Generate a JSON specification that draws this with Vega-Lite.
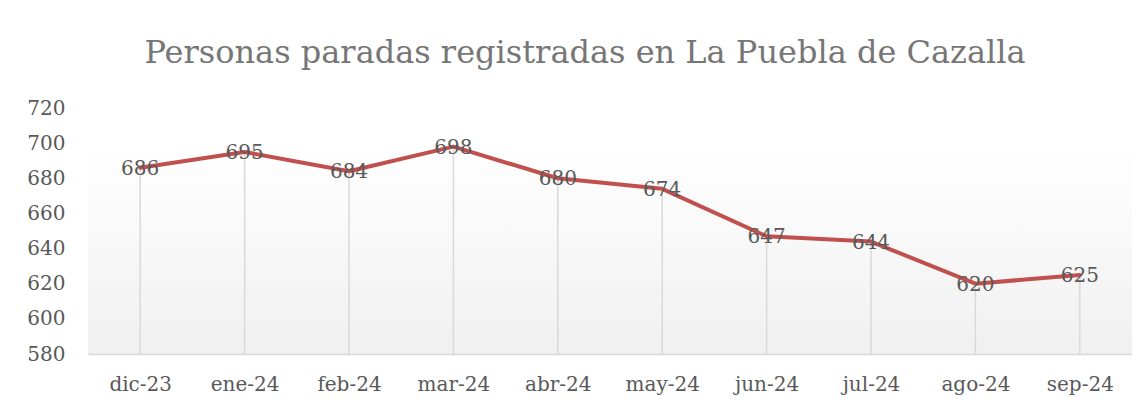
{
  "$schema": "https://vega.github.io/schema/vega-lite/v6.json",
  "autosize": "none",
  "width": 1044,
  "height": 246,
  "padding": {"left": 88, "top": 108, "right": 15, "bottom": 53},
  "background": "#ffffff",
  "title": {
    "text": "Personas paradas registradas en La Puebla de Cazalla",
    "font": "DejaVu Serif",
    "fontSize": 32,
    "fontWeight": "normal",
    "color": "#767676",
    "anchor": "middle",
    "dx": -25,
    "offset": 28
  },
  "config": {
    "view": {
      "stroke": null,
      "fill": {"gradient": "linear", "x1": 0, "y1": 0, "x2": 0, "y2": 1,
        "stops": [{"offset": 0, "color": "#ffffff"}, {"offset": 0.15, "color": "#ffffff"}, {"offset": 1, "color": "#f0f0f0"}]}
    }
  },
  "data": {"values": [
    {"mes": "dic-23", "parados": 686},
    {"mes": "ene-24", "parados": 695},
    {"mes": "feb-24", "parados": 684},
    {"mes": "mar-24", "parados": 698},
    {"mes": "abr-24", "parados": 680},
    {"mes": "may-24", "parados": 674},
    {"mes": "jun-24", "parados": 647},
    {"mes": "jul-24", "parados": 644},
    {"mes": "ago-24", "parados": 620},
    {"mes": "sep-24", "parados": 625}
  ]},
  "encoding": {
    "x": {"field": "mes", "type": "ordinal", "sort": null,
      "scale": {"type": "point", "padding": 0.5},
      "axis": {"title": null, "labelAngle": 0, "labelFont": "DejaVu Serif", "labelFontSize": 20, "labelColor": "#595959",
        "ticks": false, "domainColor": "#d9d9d9", "domainWidth": 1.5, "labelPadding": 20, "grid": false}},
    "y": {"field": "parados", "type": "quantitative",
      "scale": {"domain": [580, 720], "nice": false, "zero": false},
      "axis": {"title": null, "values": [580, 600, 620, 640, 660, 680, 700, 720], "labelFont": "DejaVu Serif", "labelFontSize": 20,
        "labelColor": "#595959", "ticks": false, "domain": false, "grid": false, "labelPadding": 23}}
  },
  "layer": [
    {"mark": {"type": "rule", "color": "#d9d9d9", "strokeWidth": 1.5}, "encoding": {"y2": {"datum": 580}}},
    {"mark": {"type": "line", "color": "#c0504d", "strokeWidth": 4, "strokeCap": "round", "strokeJoin": "round"}},
    {"mark": {"type": "text", "font": "DejaVu Serif", "fontSize": 20, "color": "#595959", "baseline": "middle", "align": "center", "dy": 1},
      "encoding": {"text": {"field": "parados", "type": "quantitative"}}}
  ]
}
